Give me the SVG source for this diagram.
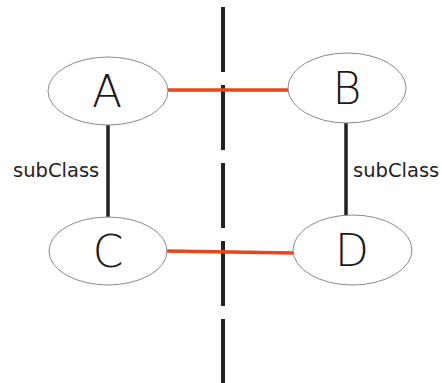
<svg xmlns="http://www.w3.org/2000/svg" width="442" height="383" viewBox="0 0 442 383">
<style>
.node ellipse{fill:#fff;stroke:#8a8a8a;stroke-width:1}
.node text{font-family:"DejaVu Sans",sans-serif;font-weight:200;font-size:44px;fill:#1a1a1a;text-anchor:middle}
.lbl{font-family:"DejaVu Sans",sans-serif;font-size:19.5px;fill:#222}
.red{stroke:#e8461a;stroke-width:3.5;fill:none}
.blk{stroke:#222;stroke-width:3.5;fill:none}
</style>
<rect width="442" height="383" fill="#fff"/>
<g id="divider">
<line x1="223" y1="7" x2="223" y2="383" stroke="#222" stroke-width="4" stroke-dasharray="65 13"/>
</g>
<g id="connectors">
<line class="red" x1="167" y1="90" x2="289" y2="90"/>
<line class="red" x1="167" y1="251" x2="294" y2="253"/>
<line class="blk" x1="108" y1="125" x2="108" y2="218"/>
<line class="blk" x1="346" y1="123" x2="346" y2="215"/>
<text class="lbl" x="13" y="177">subClass</text>
<text class="lbl" x="353" y="177">subClass</text>
</g>
<g id="A" class="node"><ellipse cx="108" cy="91" rx="60" ry="34"/><text x="107" y="107">A</text></g>
<g id="B" class="node"><ellipse cx="347" cy="88" rx="59" ry="35"/><text x="347" y="104">B</text></g>
<g id="C" class="node"><ellipse cx="108" cy="251" rx="59" ry="34"/><text x="108" y="267">C</text></g>
<g id="D" class="node"><ellipse cx="352.5" cy="250" rx="59.5" ry="35"/><text x="352" y="266">D</text></g>
</svg>
